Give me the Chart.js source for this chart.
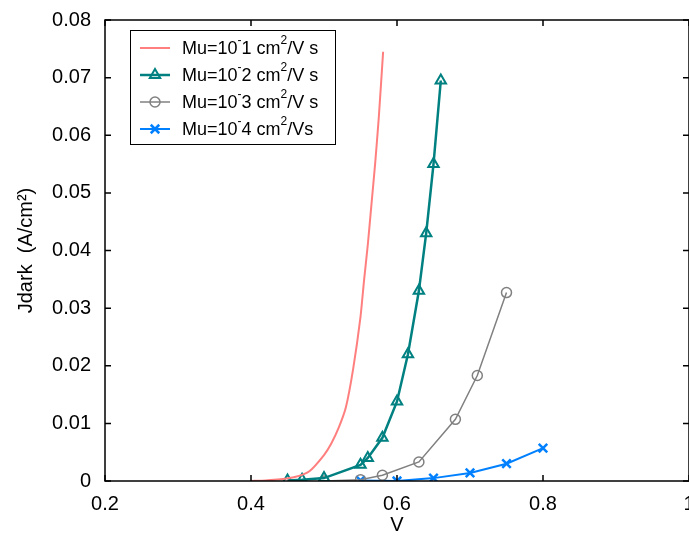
<!DOCTYPE html>
<html>
<head>
<meta charset="utf-8">
<script src="https://cdn.jsdelivr.net/npm/chart.js@4/dist/chart.umd.min.js"></script>
<style>
  html, body { margin: 0; padding: 0; background: #fff; overflow: hidden; }
  #wrap { width: 700px; height: 541px; }
</style>
</head>
<body>
<div id="wrap"><canvas id="jvChart" width="700" height="541"></canvas></div>
<script>
// series data
const mu1V = [0.40, 0.42, 0.44, 0.46, 0.48, 0.50, 0.51, 0.52, 0.53, 0.54, 0.55, 0.555, 0.56, 0.565, 0.57, 0.575, 0.581];
const mu1J = [0, 0.0001, 0.0003, 0.0007, 0.0017, 0.0045, 0.0065, 0.0092, 0.0128, 0.0195, 0.0285, 0.035, 0.041, 0.048, 0.055, 0.063, 0.0745];

const mu2V = [0.45, 0.47, 0.50, 0.55, 0.56, 0.58, 0.60, 0.615, 0.63, 0.64, 0.65, 0.66];
const mu2J = [0.0001, 0.0002, 0.0005, 0.0028, 0.004, 0.0075, 0.0138, 0.022, 0.033, 0.043, 0.055, 0.0695];

const mu3V = [0.50, 0.55, 0.58, 0.63, 0.68, 0.71, 0.75];
const mu3J = [0, 0.0002, 0.001, 0.0033, 0.0107, 0.0183, 0.0327];

const mu4V = [0.55, 0.60, 0.65, 0.70, 0.75, 0.80];
const mu4J = [0.0001, 0, 0.0005, 0.0014, 0.003, 0.0057];

const xTicks = [0.2, 0.4, 0.6, 0.8, 1.0];
const yTicks = [0, 0.01, 0.02, 0.03, 0.04, 0.05, 0.06, 0.07, 0.08];

// legend text pieces: [text, superscript?]
const legendLabels = [
    [["Mu=10", false], ["-", true], ["1 cm", false], ["2", true], ["/V s", false]],
    [["Mu=10", false], ["-", true], ["2 cm", false], ["2", true], ["/V s", false]],
    [["Mu=10", false], ["-", true], ["3 cm", false], ["2", true], ["/V s", false]],
    [["Mu=10", false], ["-", true], ["4 cm", false], ["2", true], ["/Vs", false]]
];

const FONT = "'Liberation Sans', Arial, sans-serif";

function pairs(xs, ys) {
    return xs.map((x, i) => ({ x: x, y: ys[i] }));
}

// inward ticks on all four sides + box
const boxTicks = {
    id: 'boxTicks',
    afterDatasetsDraw(chart) {
        const ctx = chart.ctx;
        const a = chart.chartArea;
        const xs = chart.scales.x, ys = chart.scales.y;
        const len = 6;
        ctx.save();
        ctx.strokeStyle = '#000';
        ctx.lineWidth = 1.5;
        ctx.strokeRect(a.left, a.top, a.right - a.left, a.bottom - a.top);
        ctx.beginPath();
        xTicks.forEach(v => {
            const px = xs.getPixelForValue(v);
            ctx.moveTo(px, a.bottom); ctx.lineTo(px, a.bottom - len);
            ctx.moveTo(px, a.top); ctx.lineTo(px, a.top + len);
        });
        yTicks.forEach(v => {
            const py = ys.getPixelForValue(v);
            ctx.moveTo(a.left, py); ctx.lineTo(a.left + len, py);
            ctx.moveTo(a.right, py); ctx.lineTo(a.right - len, py);
        });
        ctx.stroke();
        ctx.restore();
    }
};

// matlab style legend box inside the plot
const boxLegend = {
    id: 'boxLegend',
    afterDraw(chart) {
        const ctx = chart.ctx;
        const left = 130, top = 30, width = 205, height = 114;
        ctx.save();
        ctx.fillStyle = '#fff';
        ctx.fillRect(left, top, width, height);
        ctx.strokeStyle = '#000';
        ctx.lineWidth = 1;
        ctx.strokeRect(left + 0.5, top + 0.5, width, height);

        chart.data.datasets.forEach((ds, i) => {
            const y = 48 + i * 27;
            ctx.strokeStyle = ds.borderColor;
            ctx.lineWidth = ds.borderWidth;
            ctx.beginPath();
            ctx.moveTo(140, y); ctx.lineTo(170, y);
            ctx.stroke();
            if (ds.pointRadius > 0) {
                ctx.fillStyle = 'rgba(0,0,0,0)';
                ctx.lineWidth = ds.pointBorderWidth;
                Chart.helpers.drawPoint(ctx, {
                    pointStyle: ds.pointStyle,
                    radius: ds.pointRadius,
                    borderWidth: ds.pointBorderWidth
                }, 155, y);
            }
            ctx.fillStyle = '#000';
            ctx.textBaseline = 'middle';
            let x = 182;
            legendLabels[i].forEach(([t, sup]) => {
                ctx.font = (sup ? '12px ' : '18px ') + FONT;
                ctx.fillText(t, x, sup ? y - 7 : y + 1);
                x += ctx.measureText(t).width;
            });
        });
        ctx.restore();
    }
};

new Chart(document.getElementById('jvChart'), {
    type: 'line',
    data: {
        datasets: [{
            label: 'Mu=1e-1',
            data: pairs(mu1V, mu1J),
            borderColor: '#ff7f7f',
            borderWidth: 2,
            pointRadius: 0,
            tension: 0.2
        }, {
            label: 'Mu=1e-2',
            data: pairs(mu2V, mu2J),
            borderColor: '#008080',
            borderWidth: 2.5,
            pointStyle: 'triangle',
            pointRadius: 6,
            pointBorderWidth: 2,
            pointBackgroundColor: 'rgba(0,0,0,0)',
            pointBorderColor: '#008080',
            tension: 0
        }, {
            label: 'Mu=1e-3',
            data: pairs(mu3V, mu3J),
            borderColor: '#808080',
            borderWidth: 1.5,
            pointStyle: 'circle',
            pointRadius: 5,
            pointBorderWidth: 1.5,
            pointBackgroundColor: 'rgba(0,0,0,0)',
            pointBorderColor: '#808080',
            tension: 0
        }, {
            label: 'Mu=1e-4',
            data: pairs(mu4V, mu4J),
            borderColor: '#0080ff',
            borderWidth: 2,
            pointStyle: 'crossRot',
            pointRadius: 6,
            pointBorderWidth: 2.5,
            pointBackgroundColor: '#0080ff',
            pointBorderColor: '#0080ff',
            tension: 0
        }]
    },
    options: {
        responsive: false,
        animation: false,
        layout: { padding: { top: 20, right: 11, left: 0, bottom: 0 } },
        plugins: {
            legend: { display: false },
            tooltip: { enabled: false }
        },
        scales: {
            x: {
                type: 'linear',
                min: 0.2,
                max: 1.0,
                afterBuildTicks: s => { s.ticks = xTicks.map(v => ({ value: v })); },
                afterFit: s => { s.height = 60; },
                grid: { display: false },
                border: { display: false },
                ticks: {
                    color: '#000',
                    padding: 3,
                    maxRotation: 0,
                    autoSkip: false,
                    font: { family: FONT, size: 20 },
                    callback: v => String(Math.round(v * 10) / 10)
                },
                title: {
                    display: true,
                    text: 'V',
                    color: '#000',
                    font: { family: FONT, size: 20 },
                    padding: { top: 0, bottom: 4 }
                }
            },
            y: {
                type: 'linear',
                min: 0,
                max: 0.08,
                afterBuildTicks: s => { s.ticks = yTicks.map(v => ({ value: v })); },
                afterFit: s => { s.width = 105; },
                grid: { display: false },
                border: { display: false },
                ticks: {
                    color: '#000',
                    padding: 6,
                    autoSkip: false,
                    font: { family: FONT, size: 20 },
                    callback: v => String(Math.round(v * 100) / 100)
                },
                title: {
                    display: true,
                    text: 'Jdark  (A/cm²)',
                    color: '#000',
                    font: { family: FONT, size: 20 },
                    padding: { top: 14, bottom: 0 }
                }
            }
        }
    },
    plugins: [boxTicks, boxLegend]
});
</script>
</body>
</html>
